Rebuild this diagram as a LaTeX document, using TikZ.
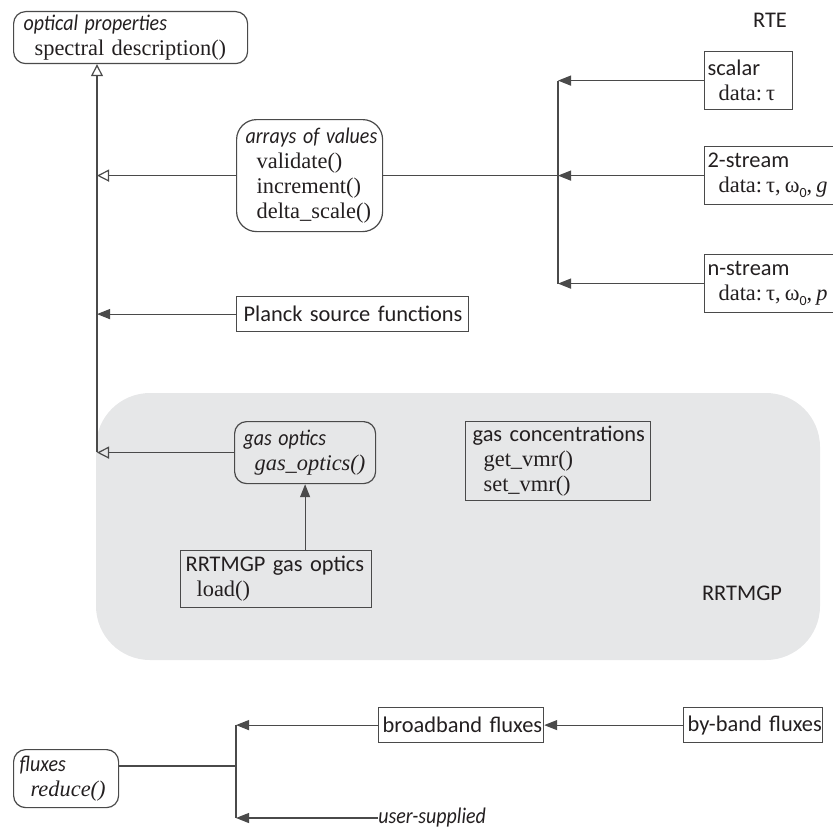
\documentclass[tikz,border=0pt]{standalone}
\usepackage{graphicx}
\usepackage{fontspec}
\setmainfont{Liberation Serif}
\setsansfont{Carlito}
\usetikzlibrary{arrows.meta}
\usetikzlibrary{positioning}

\definecolor{linegray}{HTML}{4A4A4A}
\definecolor{inkblack}{HTML}{231F20}
\definecolor{rrtmgpgray}{HTML}{E6E7E8}

\newcommand{\headtxt}[1]{\mbox{\sffamily #1}}
\newcommand{\headit}[1]{\scalebox{0.89}[1]{\sffamily\itshape #1}}
\newcommand{\meth}[1]{\mbox{\hspace*{5.5pt}#1}}
\newcommand{\wzero}{ω\raisebox{-0.45ex}{\sffamily\scriptsize 0}}
\newcommand{\gap}{\hspace{0.18em}}

\begin{document}
\begin{tikzpicture}[x=0.5pt,y=-0.5pt,
  classbox/.style={draw=linegray, line width=0.6pt, anchor=north west, align=left,
    inner xsep=3pt, inner ysep=0pt, text=inkblack, font=\fontsize{11.2}{12.5}\selectfont},
  roundbox/.style={classbox, rounded corners=6pt},
  tag/.style={inner sep=0pt, text=inkblack, font=\sffamily\fontsize{11.2}{12.5}\selectfont},
  link/.style={draw=linegray, line width=0.6pt},
  inherit/.style={link, -{Triangle[open, length=6pt, width=6pt]}},
  uses/.style={link, -{Triangle[length=6.5pt, width=5pt]}}]
  \useasboundingbox (0,0) rectangle (833,829);

  % RRTMGP package
  \fill[rrtmgpgray, rounded corners=27pt] (96,393) rectangle (820,660);

  % base class and its children
  \node[roundbox, inner xsep=5pt, text width=107pt, minimum height=26pt] (optprops) at (13,11)
    {\headit{optical properties}\\\meth{spectral description()}};
  \node[roundbox, rounded corners=10pt, inner xsep=4.5pt, text width=64pt, minimum height=56pt] (arrays) at (236,119)
    {\headit{arrays of values}\\\meth{validate()}\\\meth{increment()}\\\meth{delta\_scale()}};
  \node[classbox, inner xsep=3.5pt, text width=109pt, minimum height=17.5pt] (planck) at (236,296)
    {\headtxt{Planck source functions}};

  % RTE solvers
  \node[tag] (rte) at (770,20) {RTE};
  \node[classbox, inner xsep=1.5pt, text width=41pt, minimum height=29pt] (scalar) at (704,51)
    {\headtxt{scalar}\\\meth{data:\gap τ}};
  \node[classbox, inner xsep=1.5pt, text width=72pt, minimum height=29pt] (twostream) at (704,146)
    {\headtxt{2-stream}\\\meth{data:\gap τ,\gap\wzero,\gap\textit{g}}};
  \node[classbox, inner xsep=1.5pt, text width=72pt, minimum height=29pt] (nstream) at (704,254)
    {\headtxt{n-stream}\\\meth{data:\gap τ,\gap\wzero,\gap\textit{p}}};

  % gas optics
  \node[roundbox, inner xsep=4.5pt, text width=61.5pt, minimum height=31pt] (gasoptics) at (234,421)
    {\headit{gas optics}\\\meth{\textit{gas\_optics()}}};
  \node[classbox, inner xsep=3.5pt, text width=85.5pt, minimum height=39.5pt] (gasconc) at (465,421)
    {\headtxt{gas concentrations}\\\meth{get\_vmr()}\\\meth{set\_vmr()}};
  \node[classbox, inner xsep=2.5pt, text width=90.5pt, minimum height=28.5pt] (rrtmgpgas) at (180,550)
    {\headtxt{RRTMGP gas optics}\\\meth{load()}};
  \node[tag] (rrtmgp) at (742,593) {RRTMGP};

  % fluxes
  \node[roundbox, text width=46.5pt, minimum height=29pt] (fluxes) at (13,749)
    {\headit{fluxes}\\\meth{\textit{reduce()}}};
  \node[classbox, inner xsep=2pt, text width=78.5pt, minimum height=17.5pt] (broadband) at (378,707)
    {\headtxt{broadband fluxes}};
  \node[classbox, inner xsep=2pt, text width=65.5pt, minimum height=17.5pt] (byband) at (683,707)
    {\headtxt{by-band fluxes}};
  \node[tag, anchor=west] (usersup) at (378,818) {\headit{user-supplied}};

  % junctions
  \coordinate (optbus) at (97,452);
  \coordinate (rtebus) at (558,175);
  \coordinate (fluxbus) at (236,766);

  % inheritance
  \draw[inherit] (optbus) -- (optbus |- optprops.south);
  \draw[inherit] (arrays.west) -- (arrays.west -| optbus);
  \draw[uses] (planck.west) -- (planck.west -| optbus);
  \draw[inherit] (gasoptics.west) -- (gasoptics.west -| optbus);
  \draw[uses] (rrtmgpgas.north -| gasoptics.south) -- (gasoptics.south);

  % solvers
  \draw[link] (arrays.east) -- (arrays.east -| rtebus);
  \draw[link] (scalar.west -| rtebus) -- (nstream.west -| rtebus);
  \draw[uses] (scalar.west) -- (scalar.west -| rtebus);
  \draw[uses] (twostream.west) -- (twostream.west -| rtebus);
  \draw[uses] (nstream.west) -- (nstream.west -| rtebus);

  % flux reductions
  \draw[link] (fluxbus -| fluxes.east) -- (fluxbus);
  \draw[link] (broadband.west -| fluxbus) -- (usersup.west -| fluxbus);
  \draw[uses] (byband.west) -- (broadband.east);
  \draw[uses] (broadband.west) -- (broadband.west -| fluxbus);
  \draw[uses] (usersup.west) -- (usersup.west -| fluxbus);
\end{tikzpicture}
\end{document}
